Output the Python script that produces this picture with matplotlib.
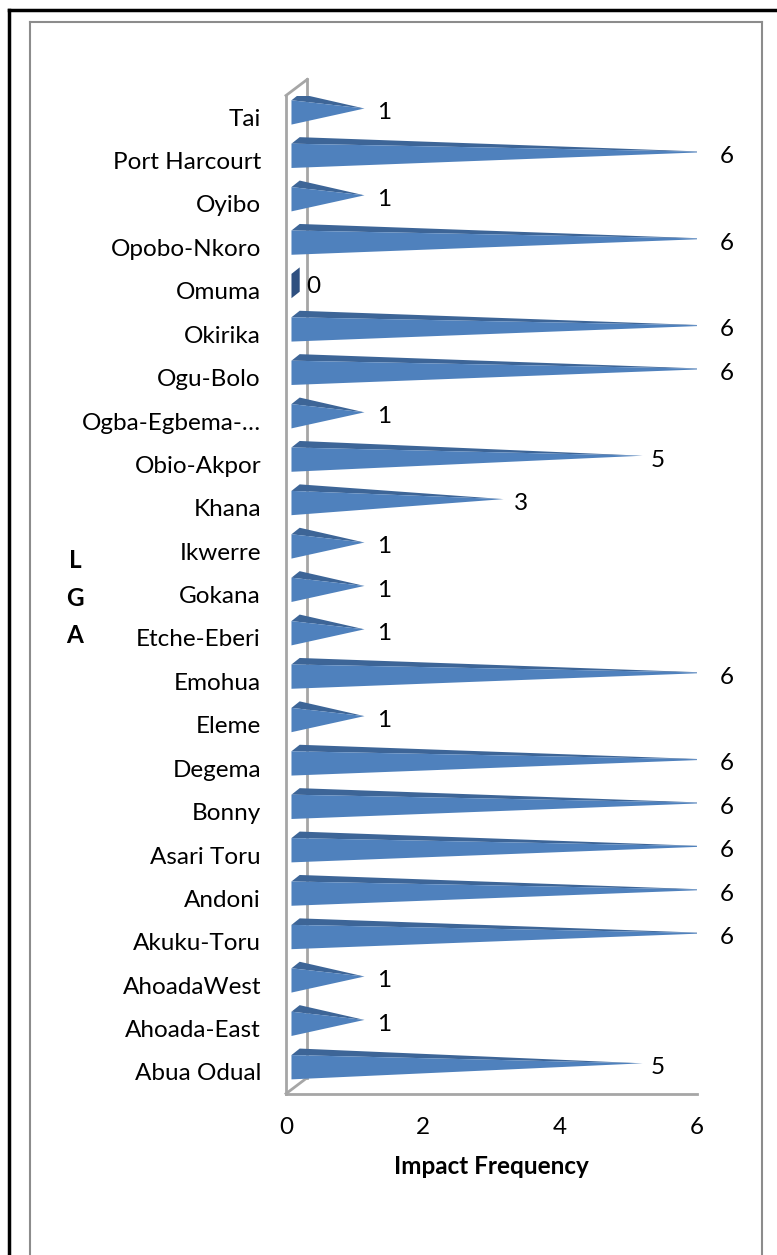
import matplotlib.pyplot as plt
from matplotlib.patches import Polygon
from matplotlib.lines import Line2D

plt.rcParams['font.family'] = ['Lato', 'DejaVu Sans']

# LGA names (bottom to top) and impact counts
lgas = ['Abua Odual', 'Ahoada-East', 'AhoadaWest', 'Akuku-Toru', 'Andoni',
        'Asari Toru', 'Bonny', 'Degema', 'Eleme', 'Emohua', 'Etche-Eberi',
        'Gokana', 'Ikwerre', 'Khana', 'Obio-Akpor', 'Ogba-Egbema-…',
        'Ogu-Bolo', 'Okirika', 'Omuma', 'Opobo-Nkoro', 'Oyibo',
        'Port Harcourt', 'Tai']
values = [5, 1, 1, 6, 6, 6, 6, 6, 1, 6, 1, 1, 1, 3, 5, 1, 6, 6, 0, 6, 1, 6, 1]
x_ticks = [0, 2, 4, 6]

W, H = 777, 1255
fs = 17.5
fig = plt.figure(figsize=(W / 100, H / 100), dpi=100)
ax = fig.add_axes([286 / W, 1 - 1093.7 / H, (697 - 286) / W, (1093.7 - 95.5) / H])
ax.set_xlim(0, 6)
ax.set_ylim(-0.5, 22.5)

front_col = '#4F81BD'
top_col = '#3D6597'
zero_col = '#2F5080'
grid_col = '#A6A6A6'

# 3d frame: front wall edge, back wall edge, floor edge
depth_x, depth_y = 0.31, 0.37
ax.plot([0, 0], [-0.5, 22.5], color=grid_col, lw=2, clip_on=False, zorder=1)
ax.plot([depth_x, depth_x], [-0.5 + depth_y, 22.5 + depth_y], color=grid_col, lw=2,
        clip_on=False, zorder=1)
ax.plot([0, depth_x], [22.5, 22.5 + depth_y], color=grid_col, lw=2, clip_on=False, zorder=1)
ax.plot([0, depth_x], [-0.5, -0.5 + depth_y], color=grid_col, lw=2, clip_on=False, zorder=1)
ax.plot([0, 6], [-0.5, -0.5], color=grid_col, lw=2, clip_on=False, zorder=1)

# cone bars
x0, h, dx, dy = 0.08, 0.28, 0.12, 0.15
for i, v in enumerate(values):
    yc = i + 0.11
    if v == 0:
        ax.add_patch(Polygon([(x0, yc - h), (x0, yc + h), (x0 + dx, yc + h + dy),
                              (x0 + dx, yc - h + dy)], closed=True,
                             facecolor=zero_col, edgecolor='none', zorder=3))
        lab_x = x0 + dx + 0.1
    else:
        tip = v * 1.015 + 0.13
        ty = yc + 0.09
        ax.add_patch(Polygon([(x0, yc + h), (x0 + dx, yc + h + dy), (tip, ty)],
                             closed=True, facecolor=top_col, edgecolor='none', zorder=3))
        ax.add_patch(Polygon([(x0, yc - h), (x0, yc + h), (tip, ty)],
                             closed=True, facecolor=front_col, edgecolor='none', zorder=4))
        lab_x = v + 0.33
    ax.text(lab_x, i + 0.1, str(v), ha='left', va='center', fontsize=fs, zorder=5)

ax.set_xticks(x_ticks)
ax.set_yticks(range(len(lgas)), lgas)
ax.tick_params(axis='both', length=0, labelsize=fs)
ax.tick_params(axis='y', pad=18)
ax.tick_params(axis='x', pad=17)
for s in ax.spines.values():
    s.set_visible(False)

ax.set_xlabel('Impact Frequency', fontsize=fs, fontweight='bold', labelpad=12)
fig.text(75 / W, 1 - 598 / H, 'L\nG\nA', ha='center', va='center', fontsize=fs,
         fontweight='bold', linespacing=1.75)

# outer black frame and inner grey chart border
fig.add_artist(Line2D([8.5 / W, 8.5 / W], [0, 1 - 9.5 / H], color='black', lw=2.5))
fig.add_artist(Line2D([8.5 / W, 1], [1 - 9.5 / H, 1 - 9.5 / H], color='black', lw=2.5))
fig.add_artist(Line2D([30 / W, 30 / W], [0, 1 - 21.5 / H], color='#8C8C8C', lw=1.5))
fig.add_artist(Line2D([30 / W, 762 / W], [1 - 21.5 / H, 1 - 21.5 / H], color='#8C8C8C', lw=1.5))
fig.add_artist(Line2D([762 / W, 762 / W], [0, 1 - 21.5 / H], color='#8C8C8C', lw=1.5))

fig.savefig('out.png', dpi=100)
